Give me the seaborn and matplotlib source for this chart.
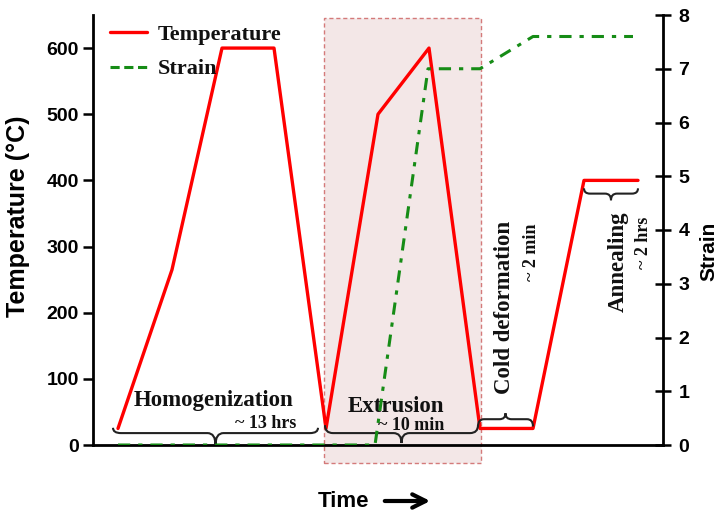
import matplotlib
matplotlib.use("Agg")
import matplotlib.pyplot as plt
import numpy as np
import pandas as pd
import seaborn as sns
from matplotlib.patches import Rectangle, PathPatch
from matplotlib.path import Path
from matplotlib.lines import Line2D

# ---------------- data ----------------
time_temp = [25, 79, 129, 181, 233, 285, 336, 387, 440, 491, 545]
temperature = [25, 265, 600, 600, 25, 500, 600, 25, 25, 400, 400]
time_strain = [25, 282, 335, 387, 440, 540]
strain = [0, 0, 7, 7, 7.6, 7.6]
temp_ticks = [0, 100, 200, 300, 400, 500, 600]
strain_ticks = [0, 1, 2, 3, 4, 5, 6, 7, 8]
stage_names = ["Homogenization", "Extrusion", "Cold deformation", "Annealing"]
stage_durations = ["~ 13 hrs", "~ 10 min", "~ 2 min", "~ 2 hrs"]
series_names = ["Temperature", "Strain"]

# ---------------- style ----------------
sns.set_theme(style="white")
plt.rcParams["font.family"] = ["Liberation Sans", "DejaVu Sans"]
SERIF = ["Liberation Serif", "DejaVu Serif"]
RED = "#ff0000"
GREEN = "#168c16"
STRAIN_DASH = (0, (4.0, 2.6, 1.4, 2.6))

fig = plt.figure(figsize=(7.22, 5.14), dpi=100)
ax = fig.add_axes([93 / 722, 69 / 514, 570 / 722, 430 / 514])
ax2 = ax.twinx()

df_t = pd.DataFrame({"time": time_temp, "temp": temperature})
df_s = pd.DataFrame({"time": time_strain, "strain": strain})

sns.lineplot(data=df_t, x="time", y="temp", ax=ax, sort=False, estimator=None,
             color=RED, lw=2.4, zorder=3)
sns.lineplot(data=df_s, x="time", y="strain", ax=ax2, sort=False, estimator=None,
             color=GREEN, lw=2.2, linestyle=STRAIN_DASH)

ax.set_xlim(0, 570)
ax.set_ylim(0, 650)
ax2.set_ylim(0, 8)

# shaded extrusion window
ax.add_patch(Rectangle((231, -27), 157, 672, facecolor="#f3e7e7",
                       edgecolor="#d47a7a", linestyle=(0, (3, 2)), lw=1.0,
                       clip_on=False, zorder=0.5))

# spines
for sp in ["top", "right"]:
    ax.spines[sp].set_visible(False)
for sp in ["top", "left", "bottom"]:
    ax2.spines[sp].set_visible(False)
for sp in ["left", "bottom"]:
    ax.spines[sp].set_color("black")
    ax.spines[sp].set_linewidth(2)
ax2.spines["right"].set_color("black")
ax2.spines["right"].set_linewidth(2)

ax.set_xticks([])
ax.set_yticks(temp_ticks)
ax2.set_yticks(strain_ticks)
ax.tick_params(axis="y", direction="out", length=7, width=1.8, color="black",
               labelsize=14, pad=3, left=True, labelcolor="black")
ax2.tick_params(axis="y", direction="inout", length=12, width=1.8, color="black",
                labelsize=14, pad=5, right=True, labelcolor="black")
for lbl in ax.get_yticklabels() + ax2.get_yticklabels():
    lbl.set_fontweight("bold")

ax.set_ylabel("Temperature (°C)", fontsize=18, fontweight="bold", color="black")
ax.yaxis.set_label_coords(-0.11, 0.533)
ax2.set_ylabel("Strain", fontsize=15, fontweight="bold", color="black")
ax2.yaxis.set_label_coords(1.064, 0.45)
ax.set_xlabel("Time", fontsize=16, fontweight="bold", color="black")
ax.xaxis.set_label_coords(0.4386, -0.106)
ax.annotate("", xy=(433, 13), xytext=(382, 13), xycoords="figure pixels",
            textcoords="figure pixels",
            arrowprops=dict(arrowstyle="->", lw=3, color="black", mutation_scale=24))


# braces
def brace(axis, x0, x1, y_end, y_mid, y_tip, w):
    xc = (x0 + x1) / 2
    verts = [(x0, y_end), (x0, y_mid), (x0 + w, y_mid), (xc - w, y_mid),
             (xc, y_mid), (xc, y_tip), (xc, y_mid), (xc + w, y_mid),
             (x1 - w, y_mid), (x1, y_mid), (x1, y_end)]
    codes = [Path.MOVETO, Path.CURVE3, Path.CURVE3, Path.LINETO,
             Path.CURVE3, Path.CURVE3, Path.CURVE3, Path.CURVE3,
             Path.LINETO, Path.CURVE3, Path.CURVE3]
    axis.add_patch(PathPatch(Path(verts, codes), facecolor="none",
                             edgecolor="#222222", lw=1.5, zorder=4, clip_on=False))


brace(ax, 20, 225, 26, 18, 0, 8)
brace(ax, 232, 385, 30, 18, 3, 8)
brace(ax, 385, 440, 28, 39, 48, 6)
brace(ax, 491, 545, 388, 380, 370, 6)

tkw = dict(family=SERIF, fontweight="bold", color="#111111", zorder=5)
ax.text(121, 67, stage_names[0], fontsize=16.5, ha="center", va="center", **tkw)
ax.text(173, 33, stage_durations[0], fontsize=13, ha="center", va="center", **tkw)
ax.text(303, 58, stage_names[1], fontsize=16.5, ha="center", va="center", **tkw)
ax.text(318, 29, stage_durations[1], fontsize=13, ha="center", va="center", **tkw)
ax.text(412, 208, stage_names[2], fontsize=16.5, ha="center", va="center",
        rotation=90, **tkw)
ax.text(439, 292, stage_durations[2], fontsize=13, ha="center", va="center",
        rotation=90, **tkw)
ax.text(525, 277, stage_names[3], fontsize=16.5, ha="center", va="center",
        rotation=90, **tkw)
ax.text(550, 305, stage_durations[3], fontsize=13, ha="center", va="center",
        rotation=90, **tkw)

handles = [Line2D([], [], color=RED, lw=2.4),
           Line2D([], [], color=GREEN, lw=2.2, linestyle=(0, (3, 1.5)))]
leg = ax2.legend(handles, series_names, loc="upper left",
                 bbox_to_anchor=(0.03, 0.978), frameon=False, borderpad=0,
                 borderaxespad=0, handlelength=1.65, handletextpad=0.5,
                 labelspacing=0.62,
                 prop=dict(family=SERIF, weight="bold", size=16))
for t in leg.get_texts():
    t.set_color("#111111")

fig.savefig("out.png", dpi=100)
